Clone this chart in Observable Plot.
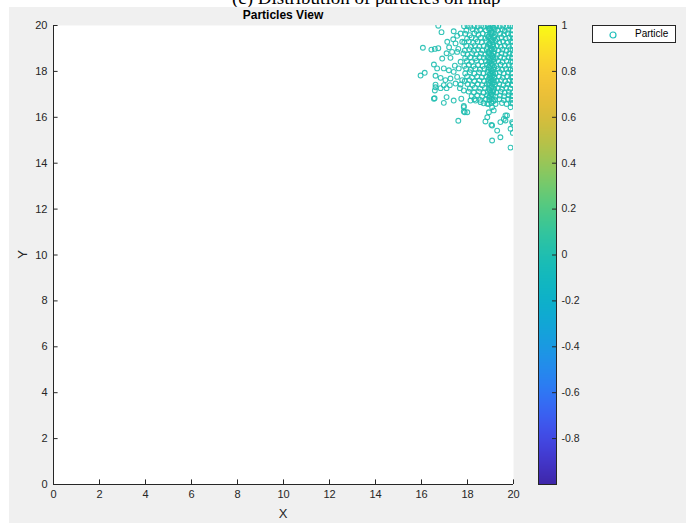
<!DOCTYPE html>
<html>
<head>
<meta charset="utf-8">
<script src="https://cdn.jsdelivr.net/npm/d3@7"></script>
<script src="https://cdn.jsdelivr.net/npm/@observablehq/plot@0.6"></script>
<style>
  html, body { margin: 0; padding: 0; background: #ffffff; }
  #wrap { position: relative; width: 686px; height: 523px; overflow: hidden; font-family: "Liberation Sans", Arial, sans-serif; }
  #caption { position: absolute; left: 232px; top: -13px; font-family: "Liberation Serif", "Times New Roman", serif; font-size: 19px; color: #000; white-space: nowrap; }
  #fig { position: absolute; left: 9px; top: 7px; width: 677px; height: 516px; background: #f0f0f0; }
  #main, #cbar { position: absolute; left: 0; top: 0; }
  #title { position: absolute; left: 53px; width: 460px; top: 8px; text-align: center; font-weight: bold; font-size: 12px; color: #000; }
  #xlabel { position: absolute; left: 53px; width: 460px; top: 506px; text-align: center; font-size: 13px; color: #262626; }
  #ylabel { position: absolute; left: 18px; top: 247px; font-size: 13px; color: #262626; transform: rotate(-90deg); transform-origin: center; }
  #legend { position: absolute; left: 592px; top: 25px; width: 82px; height: 16px; background: #fff; border: 1px solid #262626; font-size: 10px; color: #000; }
  #legend svg { position: absolute; left: 14px; top: 3px; }
  #legend span { position: absolute; left: 42px; top: 2px; }
</style>
</head>
<body>
<div id="wrap">
  <div id="caption">(c) Distribution of particles on map</div>
  <div id="fig"></div>
  <div id="main"></div>
  <div id="cbar"></div>
  <div id="title">Particles View</div>
  <div id="xlabel">X</div>
  <div id="ylabel">Y</div>
  <div id="legend"><svg width="12" height="12"><circle cx="6" cy="6" r="3" fill="none" stroke="#20bfbb" stroke-width="1.2"></circle></svg><span>Particle</span></div>
</div>
<script>
// ---- data ----
const xTicks = [0, 2, 4, 6, 8, 10, 12, 14, 16, 18, 20];
const yTicks = [0, 2, 4, 6, 8, 10, 12, 14, 16, 18, 20];
const colorTicks = [-0.8, -0.6, -0.4, -0.2, 0, 0.2, 0.4, 0.6, 0.8, 1];
const colorDomain = [-1, 1];
const parula = ["#3e26a8", "#4746eb", "#2f79f9", "#1a9be2", "#08b2c9", "#1bbeb4", "#4acb86", "#9ac856", "#dcb936", "#fdc43a", "#f9fb15"];
const particleValue = 0;

// particle positions [x, y]
const particles = [
  // sparse outliers
  [16.73,19.99],[16.87,19.71],[17.40,19.75],[16.06,19.03],[16.43,18.95],[16.58,18.98],[16.73,19.01],
  [15.96,17.82],[16.14,17.94],[16.61,17.42],[16.58,17.17],[16.54,16.81],[16.97,16.63],[17.40,16.73],
  [17.60,15.85],[17.84,16.44],[17.88,16.22],[18.78,15.82],[19.04,15.67],[19.43,15.79],[19.29,15.42],
  [19.43,15.13],[19.07,14.99],[19.87,14.68],[19.97,15.32],[19.97,15.73],[19.65,15.86],[19.72,16.08],
  // left mid-density
  [17.12,19.29],[17.38,19.40],[17.48,19.22],[17.77,19.29],[17.70,19.65],[17.33,18.85],[17.09,18.79],
  [17.55,18.85],[17.26,18.59],[17.70,18.42],[16.90,18.56],[16.54,18.30],[16.68,18.13],[16.97,18.13],
  [17.19,18.05],[17.40,17.98],[17.62,18.13],[16.61,17.81],[16.83,17.72],[17.04,17.62],[17.26,17.69],
  [17.55,17.76],[17.77,17.62],[16.97,17.40],[17.23,17.40],[17.48,17.47],[17.70,17.43],[16.61,17.31],
  [16.83,17.27],[17.09,17.27],[16.57,16.83],[17.09,16.88],[17.67,17.27],[17.84,17.17],[17.73,16.81],
  [17.84,16.49],[17.84,16.25],[17.99,16.22],[18.13,16.73],[18.35,16.73],[18.57,16.66],[18.86,16.59],
  [19.07,16.44],[19.14,16.30],[18.93,16.22],[18.86,16.00],[19.07,15.64],[19.58,15.93],[19.65,16.08],
  [19.87,16.44],[19.94,15.79],[19.87,15.50],[17.55,19.55],[17.20,19.05],[17.60,18.98],[17.45,18.25],
  // dense block, row by row
  [17.85,19.97],[18.00,19.99],[18.12,19.95],[18.30,19.98],[18.45,19.96],[18.60,19.99],[18.72,19.95],[18.88,19.97],[19.00,19.99],[19.10,19.94],[19.25,19.98],[19.40,19.96],[19.55,19.99],[19.70,19.95],[19.85,19.98],[19.97,19.96],
  [17.95,19.78],[18.22,19.84],[18.40,19.76],[18.55,19.82],[18.80,19.79],[18.93,19.85],[19.05,19.77],[19.18,19.83],[19.33,19.78],[19.50,19.84],[19.62,19.76],[19.78,19.82],[19.95,19.79],
  [17.90,19.64],[18.10,19.58],[18.30,19.66],[18.48,19.60],[18.66,19.65],[18.85,19.59],[18.98,19.63],[19.10,19.67],[19.20,19.58],[19.42,19.64],[19.58,19.60],[19.75,19.66],[19.90,19.61],
  [17.98,19.43],[18.18,19.48],[18.36,19.41],[18.58,19.47],[18.78,19.44],[18.90,19.49],[19.02,19.42],[19.15,19.46],[19.30,19.41],[19.48,19.48],[19.66,19.43],[19.82,19.47],[19.97,19.44],
  [17.86,19.26],[18.05,19.31],[18.25,19.25],[18.44,19.30],[18.62,19.27],[18.82,19.32],[18.95,19.24],[19.08,19.29],[19.22,19.33],[19.38,19.26],[19.55,19.30],[19.72,19.25],[19.90,19.31],
  [17.95,19.12],[18.15,19.07],[18.32,19.13],[18.52,19.08],[18.70,19.11],[18.87,19.06],[19.00,19.13],[19.12,19.08],[19.28,19.12],[19.45,19.07],[19.62,19.13],[19.80,19.09],[19.96,19.12],
  [17.88,18.91],[18.08,18.96],[18.28,18.90],[18.46,18.95],[18.64,18.92],[18.84,18.97],[18.96,18.90],[19.06,18.94],[19.18,18.97],[19.35,18.91],[19.52,18.95],[19.70,18.90],[19.86,18.96],
  [17.82,18.78],[18.00,18.73],[18.20,18.79],[18.40,18.74],[18.58,18.78],[18.78,18.73],[18.92,18.79],[19.03,18.75],[19.14,18.78],[19.30,18.73],[19.48,18.79],[19.65,18.74],[19.82,18.78],[19.97,18.75],
  [17.90,18.58],[18.12,18.62],[18.34,18.57],[18.52,18.63],[18.72,18.59],[18.88,18.62],[19.00,18.57],[19.10,18.61],[19.24,18.58],[19.42,18.63],[19.60,18.58],[19.78,18.62],[19.93,18.59],
  [17.97,18.45],[18.18,18.41],[18.40,18.46],[18.60,18.42],[18.80,18.45],[18.94,18.40],[19.05,18.46],[19.16,18.42],[19.34,18.45],[19.52,18.41],[19.70,18.46],[19.88,18.42],
  [17.86,18.24],[18.06,18.29],[18.26,18.23],[18.46,18.28],[18.66,18.24],[18.85,18.29],[18.98,18.25],[19.10,18.28],[19.26,18.23],[19.44,18.29],[19.62,18.25],[19.80,18.28],[19.96,18.24],
  [17.94,18.12],[18.14,18.07],[18.34,18.12],[18.54,18.08],[18.74,18.12],[18.90,18.07],[19.02,18.11],[19.14,18.08],[19.32,18.12],[19.50,18.07],[19.68,18.11],[19.86,18.08],
  [17.90,17.91],[18.10,17.96],[18.30,17.90],[18.50,17.95],[18.70,17.91],[18.87,17.96],[18.99,17.90],[19.10,17.94],[19.22,17.91],[19.40,17.96],[19.58,17.91],[19.76,17.95],[19.94,17.92],
  [17.98,17.78],[18.20,17.73],[18.42,17.78],[18.62,17.74],[18.82,17.77],[18.95,17.73],[19.06,17.79],[19.18,17.74],[19.36,17.78],[19.54,17.73],[19.72,17.78],[19.90,17.74],
  [17.88,17.58],[18.08,17.62],[18.30,17.57],[18.52,17.61],[18.72,17.58],[18.90,17.63],[19.02,17.57],[19.14,17.61],[19.28,17.58],[19.46,17.62],[19.64,17.57],[19.82,17.61],[19.97,17.58],
  [18.00,17.45],[18.22,17.41],[18.44,17.45],[18.64,17.40],[18.84,17.45],[18.96,17.41],[19.08,17.46],[19.20,17.42],[19.38,17.45],[19.56,17.40],[19.74,17.45],[19.92,17.41],
  [18.10,17.25],[18.32,17.29],[18.55,17.25],[18.76,17.29],[18.92,17.24],[19.04,17.29],[19.16,17.25],[19.32,17.28],[19.50,17.24],[19.68,17.29],[19.86,17.25],
  [18.05,17.12],[18.28,17.08],[18.50,17.12],[18.70,17.07],[18.88,17.11],[19.00,17.07],[19.12,17.12],[19.26,17.08],[19.44,17.12],[19.62,17.07],[19.80,17.11],[19.96,17.08],
  [18.18,16.92],[18.42,16.96],[18.64,16.91],[18.85,16.96],[18.98,16.92],[19.10,16.96],[19.22,16.91],[19.40,16.95],[19.60,16.92],[19.78,16.96],[19.94,16.92],
  [18.30,16.79],[18.56,16.76],[18.80,16.80],[18.95,16.76],[19.06,16.80],[19.20,16.76],[19.38,16.79],[19.58,16.75],[19.76,16.80],[19.92,16.76],
  [18.70,16.61],[18.92,16.58],[19.04,16.62],[19.22,16.58],[19.50,16.62],[19.70,16.58],[19.90,16.61],
  // extra density in the vertical band near x = 19
  [18.96,19.88],[19.04,19.70],[18.92,19.52],[19.06,19.36],[18.94,19.18],[19.04,19.00],[18.90,18.84],[19.08,18.68],
  [18.95,18.50],[19.04,18.34],[18.92,18.18],[19.06,18.02],[18.96,17.84],[19.04,17.68],[18.92,17.50],[19.06,17.34],
  [18.97,17.18],[19.04,17.00],[18.94,16.86],[19.12,16.70],[19.14,19.90],[19.16,19.52],[19.12,19.18],[19.15,18.84],
  [19.13,18.52],[19.16,18.18],[19.12,17.84],[19.15,17.52],[19.12,17.18],[19.97,19.62],[19.97,19.28],[19.97,18.93],
  [19.97,18.43],[19.97,18.10],[19.97,17.76],[19.97,17.43],[19.97,16.94],[19.97,16.62]
].map(([x, y]) => ({x, y, v: particleValue}));

const colorScale = {type: "linear", domain: colorDomain, interpolate: d3.interpolateRgbBasis(parula)};
const ink = "#262626";
const W = 686, H = 523;

const main = Plot.plot({
  width: W, height: H,
  marginLeft: 53, marginRight: W - 513, marginTop: 25, marginBottom: H - 484,
  style: {background: "transparent", fontFamily: "'Liberation Sans', Arial, sans-serif", fontSize: "11px", color: ink},
  x: {domain: [0, 20], ticks: xTicks, label: null},
  y: {domain: [0, 20], ticks: yTicks, label: null},
  color: colorScale,
  marks: [
    Plot.frame({fill: "white", stroke: null}),
    Plot.axisX({ticks: xTicks, tickSize: 0, tickPadding: 6, tickFormat: d => String(d), label: null, fontSize: 11}),
    Plot.axisY({ticks: yTicks, tickSize: 0, tickPadding: 6, tickFormat: d => String(d), label: null, fontSize: 11}),
    Plot.ruleX(xTicks, {x: d => d, y1: 0, y2: 0.2, stroke: ink}),
    Plot.ruleY(yTicks, {y: d => d, x1: 0, x2: 0.2, stroke: ink}),
    Plot.dot(particles, {x: "x", y: "y", r: 2.4, stroke: "v", strokeWidth: 1.1, fill: "none", strokeOpacity: 0.9, clip: true}),
    Plot.ruleX([0], {stroke: ink}),
    Plot.ruleY([0], {stroke: ink})
  ]
});
document.getElementById("main").appendChild(main);

const cbar = Plot.plot({
  width: W, height: H,
  marginLeft: 538, marginRight: W - 556, marginTop: 25, marginBottom: H - 484,
  style: {background: "transparent", fontFamily: "'Liberation Sans', Arial, sans-serif", fontSize: "10px", color: ink},
  x: {domain: [0, 1], axis: null},
  y: {domain: colorDomain, label: null},
  color: colorScale,
  marks: [
    Plot.raster({x1: 0, x2: 1, y1: colorDomain[0], y2: colorDomain[1], width: 2, height: 460, fill: (x, y) => y, imageRendering: "auto"}),
    Plot.axisY({anchor: "right", ticks: colorTicks, tickSize: 0, tickPadding: 5, tickFormat: d => String(d), label: null, fontSize: 10.5}),
    Plot.ruleY(colorTicks, {y: d => d, x1: 0.78, x2: 1, stroke: ink}),
    Plot.frame({stroke: ink, strokeWidth: 1})
  ]
});
document.getElementById("cbar").appendChild(cbar);
</script>
</body>
</html>
